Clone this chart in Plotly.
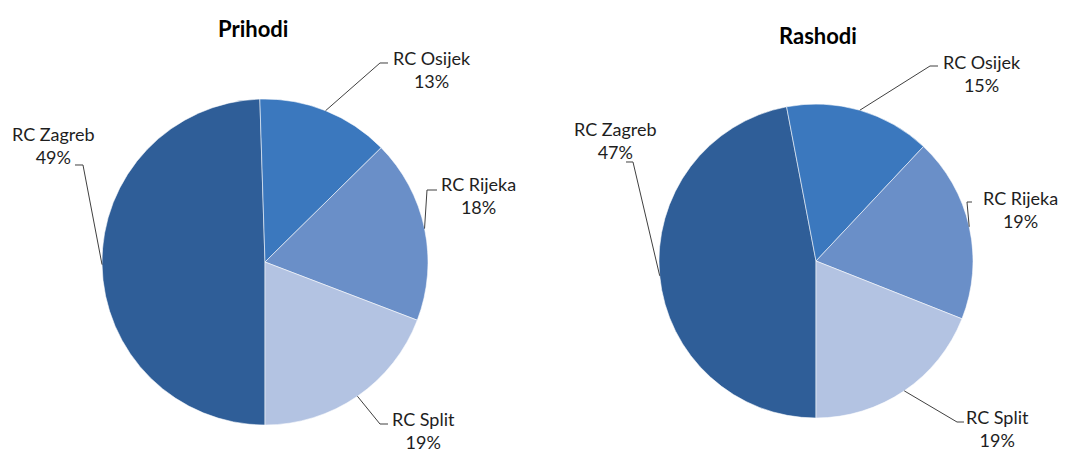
import math
import plotly.graph_objects as go

W, H = 1078, 456
OFF = 8  # default page body margin in the browser

# ---- data ----
categories = ["RC Zagreb", "RC Osijek", "RC Rijeka", "RC Split"]
prihodi = [49, 13, 18, 19]
rashodi = [47, 15, 19, 19]
titles = ["Prihodi", "Rashodi"]

# ---- styles / layout constants ----
colors = ["#2f5e98", "#3b78be", "#6a8fc8", "#b3c3e2"]
FONT = "Lato"
TEXT_COLOR = "#1e1e1e"

# pie geometry in pixels (center x, center y, radius)
pies = [
    dict(cx=265, cy=262, r=163, title_xy=(253, 28)),
    dict(cx=816, cy=261, r=157, title_xy=(818, 36)),
]
# label positions (center of two-line label, px) and leader elbow/stub points (px)
label_pos = [
    {"RC Zagreb": (53, 146), "RC Osijek": (432, 70), "RC Rijeka": (478, 196), "RC Split": (423, 430)},
    {"RC Zagreb": (615, 140), "RC Osijek": (982, 73), "RC Rijeka": (1020, 210), "RC Split": (997, 428)},
]
leader_pts = [
    {"RC Zagreb": ((83, 165), (75, 165)), "RC Osijek": ((380, 63), (388, 63)),
     "RC Rijeka": ((427, 190), (437, 190)), "RC Split": ((380, 424), (388, 424))},
    {"RC Zagreb": ((633, 162), (626, 162)), "RC Osijek": ((930, 66), (938, 66)),
     "RC Rijeka": ((967, 202), (972, 202)), "RC Split": ((957, 422), (964, 422))},
]


def px(x):
    return (x - OFF) / W


def py(y):
    return 1 - (y - OFF) / H


fig = go.Figure()
annotations = []
shapes = []

for i, (vals, title) in enumerate(zip([prihodi, rashodi], titles)):
    g = pies[i]
    cx, cy, r = g["cx"], g["cy"], g["r"]
    fig.add_trace(go.Pie(
        labels=categories,
        values=vals,
        sort=False,
        direction="clockwise",
        rotation=180,
        textinfo="none",
        hoverinfo="label+percent",
        marker=dict(colors=colors, line=dict(color="rgba(255,255,255,0.55)", width=1)),
        domain=dict(x=[px(cx - r), px(cx + r)], y=[py(cy + r), py(cy - r)]),
        showlegend=False,
    ))
    annotations.append(dict(
        text="<b>%s</b>" % title, x=px(g["title_xy"][0]), y=py(g["title_xy"][1]),
        xref="paper", yref="paper", showarrow=False,
        font=dict(family=FONT, size=22, color="#000000"),
        xanchor="center", yanchor="middle",
    ))
    total = sum(vals)
    start = 180.0  # degrees clockwise from 12 o'clock
    for cat, v in zip(categories, vals):
        span = 360.0 * v / total
        mid = math.radians(start + span / 2)
        start += span
        ex = cx + r * math.sin(mid)
        ey = cy - r * math.cos(mid)
        (elx, ely), (stx, sty) = leader_pts[i][cat]
        shapes.append(dict(
            type="path", xref="paper", yref="paper",
            path="M %f,%f L %f,%f L %f,%f" % (px(ex), py(ey), px(elx), py(ely), px(stx), py(sty)),
            line=dict(color="#404040", width=1),
        ))
        lx, ly = label_pos[i][cat]
        annotations.append(dict(
            text="%s<br>%d%%" % (cat, v), x=px(lx), y=py(ly),
            xref="paper", yref="paper", showarrow=False,
            font=dict(family=FONT, size=18, color=TEXT_COLOR),
            xanchor="center", yanchor="middle", align="center",
        ))

fig.update_layout(
    width=W, height=H,
    margin=dict(l=0, r=0, t=0, b=0),
    paper_bgcolor="white", plot_bgcolor="white",
    annotations=annotations, shapes=shapes,
)

fig.write_html("out.html")
